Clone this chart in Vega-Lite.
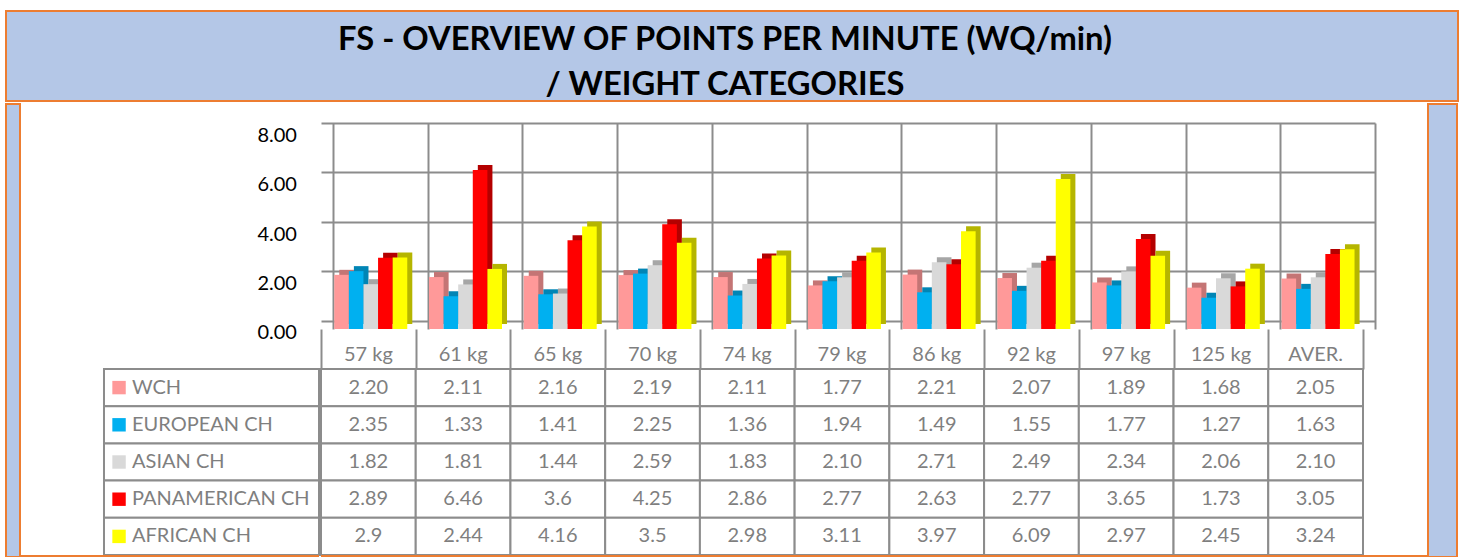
{
  "$schema": "https://vega.github.io/schema/vega-lite/v6.json",
  "background": "white",
  "padding": {"left": 5, "top": 10, "right": 5, "bottom": 0},
  "autosize": {"type": "pad"},
  "config": {"font": "Lato", "view": {"stroke": null}, "concat": {"spacing": 0}},
  "datasets": {
    "title": [
      {"line": 1, "t": "FS - OVERVIEW OF POINTS PER MINUTE (WQ/min)"},
      {"line": 2, "t": "/ WEIGHT CATEGORIES"}
    ],
    "ticks": [
      {"v": 0, "t": "0.00"},
      {"v": 2, "t": "2.00"},
      {"v": 4, "t": "4.00"},
      {"v": 6, "t": "6.00"},
      {"v": 8, "t": "8.00"}
    ],
    "d": [
      {"cat": "57 kg", "series": "WCH", "value": 2.20, "label": "2.20"},
      {"cat": "61 kg", "series": "WCH", "value": 2.11, "label": "2.11"},
      {"cat": "65 kg", "series": "WCH", "value": 2.16, "label": "2.16"},
      {"cat": "70 kg", "series": "WCH", "value": 2.19, "label": "2.19"},
      {"cat": "74 kg", "series": "WCH", "value": 2.11, "label": "2.11"},
      {"cat": "79 kg", "series": "WCH", "value": 1.77, "label": "1.77"},
      {"cat": "86 kg", "series": "WCH", "value": 2.21, "label": "2.21"},
      {"cat": "92 kg", "series": "WCH", "value": 2.07, "label": "2.07"},
      {"cat": "97 kg", "series": "WCH", "value": 1.89, "label": "1.89"},
      {"cat": "125 kg", "series": "WCH", "value": 1.68, "label": "1.68"},
      {"cat": "AVER.", "series": "WCH", "value": 2.05, "label": "2.05"},
      {"cat": "57 kg", "series": "EUROPEAN CH", "value": 2.35, "label": "2.35"},
      {"cat": "61 kg", "series": "EUROPEAN CH", "value": 1.33, "label": "1.33"},
      {"cat": "65 kg", "series": "EUROPEAN CH", "value": 1.41, "label": "1.41"},
      {"cat": "70 kg", "series": "EUROPEAN CH", "value": 2.25, "label": "2.25"},
      {"cat": "74 kg", "series": "EUROPEAN CH", "value": 1.36, "label": "1.36"},
      {"cat": "79 kg", "series": "EUROPEAN CH", "value": 1.94, "label": "1.94"},
      {"cat": "86 kg", "series": "EUROPEAN CH", "value": 1.49, "label": "1.49"},
      {"cat": "92 kg", "series": "EUROPEAN CH", "value": 1.55, "label": "1.55"},
      {"cat": "97 kg", "series": "EUROPEAN CH", "value": 1.77, "label": "1.77"},
      {"cat": "125 kg", "series": "EUROPEAN CH", "value": 1.27, "label": "1.27"},
      {"cat": "AVER.", "series": "EUROPEAN CH", "value": 1.63, "label": "1.63"},
      {"cat": "57 kg", "series": "ASIAN CH", "value": 1.82, "label": "1.82"},
      {"cat": "61 kg", "series": "ASIAN CH", "value": 1.81, "label": "1.81"},
      {"cat": "65 kg", "series": "ASIAN CH", "value": 1.44, "label": "1.44"},
      {"cat": "70 kg", "series": "ASIAN CH", "value": 2.59, "label": "2.59"},
      {"cat": "74 kg", "series": "ASIAN CH", "value": 1.83, "label": "1.83"},
      {"cat": "79 kg", "series": "ASIAN CH", "value": 2.10, "label": "2.10"},
      {"cat": "86 kg", "series": "ASIAN CH", "value": 2.71, "label": "2.71"},
      {"cat": "92 kg", "series": "ASIAN CH", "value": 2.49, "label": "2.49"},
      {"cat": "97 kg", "series": "ASIAN CH", "value": 2.34, "label": "2.34"},
      {"cat": "125 kg", "series": "ASIAN CH", "value": 2.06, "label": "2.06"},
      {"cat": "AVER.", "series": "ASIAN CH", "value": 2.10, "label": "2.10"},
      {"cat": "57 kg", "series": "PANAMERICAN CH", "value": 2.89, "label": "2.89"},
      {"cat": "61 kg", "series": "PANAMERICAN CH", "value": 6.46, "label": "6.46"},
      {"cat": "65 kg", "series": "PANAMERICAN CH", "value": 3.6, "label": "3.6"},
      {"cat": "70 kg", "series": "PANAMERICAN CH", "value": 4.25, "label": "4.25"},
      {"cat": "74 kg", "series": "PANAMERICAN CH", "value": 2.86, "label": "2.86"},
      {"cat": "79 kg", "series": "PANAMERICAN CH", "value": 2.77, "label": "2.77"},
      {"cat": "86 kg", "series": "PANAMERICAN CH", "value": 2.63, "label": "2.63"},
      {"cat": "92 kg", "series": "PANAMERICAN CH", "value": 2.77, "label": "2.77"},
      {"cat": "97 kg", "series": "PANAMERICAN CH", "value": 3.65, "label": "3.65"},
      {"cat": "125 kg", "series": "PANAMERICAN CH", "value": 1.73, "label": "1.73"},
      {"cat": "AVER.", "series": "PANAMERICAN CH", "value": 3.05, "label": "3.05"},
      {"cat": "57 kg", "series": "AFRICAN CH", "value": 2.9, "label": "2.9"},
      {"cat": "61 kg", "series": "AFRICAN CH", "value": 2.44, "label": "2.44"},
      {"cat": "65 kg", "series": "AFRICAN CH", "value": 4.16, "label": "4.16"},
      {"cat": "70 kg", "series": "AFRICAN CH", "value": 3.5, "label": "3.5"},
      {"cat": "74 kg", "series": "AFRICAN CH", "value": 2.98, "label": "2.98"},
      {"cat": "79 kg", "series": "AFRICAN CH", "value": 3.11, "label": "3.11"},
      {"cat": "86 kg", "series": "AFRICAN CH", "value": 3.97, "label": "3.97"},
      {"cat": "92 kg", "series": "AFRICAN CH", "value": 6.09, "label": "6.09"},
      {"cat": "97 kg", "series": "AFRICAN CH", "value": 2.97, "label": "2.97"},
      {"cat": "125 kg", "series": "AFRICAN CH", "value": 2.45, "label": "2.45"},
      {"cat": "AVER.", "series": "AFRICAN CH", "value": 3.24, "label": "3.24"}
    ]
  },
  "spacing": 0,
  "vconcat": [
    {
      "width": 1452,
      "height": 90,
      "view": {"fill": "#B4C7E7", "stroke": "#ED7D31", "strokeWidth": 2},
      "data": {"name": "title"},
      "mark": {"type": "text", "fontWeight": "bold", "fontSize": 32.7, "color": "black", "baseline": "alphabetic", "align": "center", "dx": -7},
      "encoding": {
        "y": {"field": "line", "type": "ordinal", "axis": null, "scale": {"type": "point", "padding": 0.5, "align": 0.8667}},
        "text": {"field": "t"}
      }
    },
    {
      "spacing": 0,
      "hconcat": [
        {
          "width": 14,
          "height": 453,
          "view": {"fill": "#B4C7E7", "stroke": "#ED7D31", "strokeWidth": 2},
          "data": {"values": []},
          "mark": "point"
        },
        {
          "bounds": "flush",
          "spacing": 0,
          "vconcat": [
            {"width": 298, "height": 19, "data": {"values": []}, "mark": "point"},
            {
              "width": 298,
              "height": 206,
              "data": {"name": "ticks"},
              "mark": {"type": "text", "align": "right", "fontSize": 20, "color": "black", "dy": 4},
              "encoding": {
                "x": {"datum": 0.926, "type": "quantitative", "scale": {"domain": [0, 1]}, "axis": null},
                "y": {"field": "v", "type": "quantitative", "scale": {"domain": [0, 8.366], "nice": false}, "axis": null},
                "text": {"field": "t"}
              }
            },
            {"width": 298, "height": 40, "data": {"values": []}, "mark": "point"},
            {
              "width": 298,
              "height": 186,
              "data": {"name": "d"},
              "transform": [{"filter": "datum.cat === '57 kg'"}],
              "encoding": {
                "y": {"field": "series", "type": "nominal",
                  "scale": {"type": "band", "domain": ["WCH","EUROPEAN CH","ASIAN CH","PANAMERICAN CH","AFRICAN CH"], "paddingInner": 0, "paddingOuter": 0},
                  "axis": null}
              },
              "layer": [
                {
                  "mark": {"type": "rect", "fill": "white", "stroke": "#8C8C8C", "strokeWidth": 2},
                  "encoding": {
                    "x": {"datum": 0.2785, "type": "quantitative", "scale": {"domain": [0, 1]}, "axis": null},
                    "x2": {"datum": 1}
                  }
                },
                {
                  "mark": {"type": "point", "shape": "square", "filled": true, "size": 180, "opacity": 1},
                  "encoding": {
                    "x": {"datum": 0.329, "type": "quantitative", "axis": null},
                    "color": {"field": "series", "type": "nominal",
                      "scale": {"domain": ["WCH","EUROPEAN CH","ASIAN CH","PANAMERICAN CH","AFRICAN CH"], "range": ["#FF9999","#00B0F0","#D9D9D9","#FF0000","#FFFF00"]},
                      "legend": null}
                  }
                },
                {
                  "mark": {"type": "text", "align": "left", "fontSize": 20, "color": "#7F7F7F"},
                  "encoding": {
                    "x": {"datum": 0.3725, "type": "quantitative", "axis": null},
                    "text": {"field": "series"}
                  }
                }
              ]
            },
            {"width": 298, "height": 2, "view": {"fill": "#ED7D31"}, "data": {"values": []}, "mark": "point"}
          ]
        },
        {
          "bounds": "flush",
          "spacing": 0,
          "vconcat": [
            {"width": 1054, "height": 19, "data": {"values": []}, "mark": "point"},
            {
              "width": 1054,
              "height": 206,
              "data": {"name": "d"},
              "layer": [
                {
                  "mark": {"type": "point", "opacity": 0},
                  "encoding": {
                    "x": {"field": "cat", "type": "nominal",
                      "scale": {"type": "band", "domain": ["57 kg","61 kg","65 kg","70 kg","74 kg","79 kg","86 kg","92 kg","97 kg","125 kg","AVER."], "paddingInner": 0, "paddingOuter": 0.0633, "align": 1},
                      "axis": {"orient": "top", "grid": true, "tickBand": "extent", "labels": false, "ticks": false, "domain": false, "title": null, "gridColor": "#8C8C8C", "gridWidth": 2}},
                    "y": {"field": "value", "type": "quantitative",
                      "scale": {"domain": [-0.33, 8], "nice": false, "zero": false},
                      "axis": {"orient": "right", "values": [0, 2, 4, 6, 8], "grid": true, "labels": false, "ticks": false, "domain": false, "title": null, "gridColor": "#8C8C8C", "gridWidth": 2}}
                  }
                },
                {
                  "mark": {"type": "bar", "yOffset": -5},
                  "encoding": {
                    "x": {"field": "cat", "type": "nominal",
                      "scale": {"type": "band", "domain": ["57 kg","61 kg","65 kg","70 kg","74 kg","79 kg","86 kg","92 kg","97 kg","125 kg","AVER."], "paddingInner": 0, "paddingOuter": 0.0633, "align": 0},
                      "axis": null},
                    "xOffset": {"field": "series", "type": "nominal",
                      "scale": {"domain": ["WCH","EUROPEAN CH","ASIAN CH","PANAMERICAN CH","AFRICAN CH"], "paddingInner": 0, "paddingOuter": 0.744, "align": 0.842}},
                    "y": {"field": "value", "type": "quantitative", "scale": {"domain": [0, 8.366], "nice": false}, "axis": null},
                    "color": {"field": "series", "type": "nominal",
                      "scale": {"domain": ["WCH","EUROPEAN CH","ASIAN CH","PANAMERICAN CH","AFRICAN CH"], "range": ["#C47575","#0085B5","#A6A6A6","#B40000","#B5B500"]},
                      "legend": null}
                  }
                },
                {
                  "mark": {"type": "bar"},
                  "encoding": {
                    "x": {"field": "cat", "type": "nominal",
                      "scale": {"type": "band", "domain": ["57 kg","61 kg","65 kg","70 kg","74 kg","79 kg","86 kg","92 kg","97 kg","125 kg","AVER."], "paddingInner": 0, "paddingOuter": 0.0633, "align": 0},
                      "axis": null},
                    "xOffset": {"field": "series", "type": "nominal",
                      "scale": {"domain": ["WCH","EUROPEAN CH","ASIAN CH","PANAMERICAN CH","AFRICAN CH"], "paddingInner": 0, "paddingOuter": 0.744, "align": 0.61}},
                    "y": {"field": "value", "type": "quantitative", "scale": {"domain": [0, 8.366], "nice": false}, "axis": null},
                    "color": {"field": "series", "type": "nominal",
                      "scale": {"domain": ["WCH","EUROPEAN CH","ASIAN CH","PANAMERICAN CH","AFRICAN CH"], "range": ["#FF9999","#00B0F0","#D9D9D9","#FF0000","#FFFF00"]},
                      "legend": null}
                  }
                }
              ],
              "resolve": {"scale": {"x": "independent", "y": "independent", "color": "independent", "xOffset": "independent"}}
            },
            {
              "width": 1042,
              "height": 40,
              "data": {"name": "d"},
              "transform": [{"filter": "datum.series === 'WCH'"}],
              "mark": {"type": "text", "fontSize": 20, "color": "#7F7F7F", "dy": 6},
              "encoding": {
                "x": {"field": "cat", "type": "nominal",
                  "scale": {"type": "band", "domain": ["57 kg","61 kg","65 kg","70 kg","74 kg","79 kg","86 kg","92 kg","97 kg","125 kg","AVER."], "paddingInner": 0, "paddingOuter": 0},
                  "axis": {"orient": "top", "grid": true, "tickBand": "extent", "labels": false, "ticks": false, "domain": false, "title": null, "gridColor": "#8C8C8C", "gridWidth": 2}},
                "text": {"field": "cat"}
              }
            },
            {
              "width": 1042,
              "height": 186,
              "data": {"name": "d"},
              "encoding": {
                "x": {"field": "cat", "type": "nominal",
                  "scale": {"type": "band", "domain": ["57 kg","61 kg","65 kg","70 kg","74 kg","79 kg","86 kg","92 kg","97 kg","125 kg","AVER."], "paddingInner": 0, "paddingOuter": 0},
                  "axis": null},
                "y": {"field": "series", "type": "nominal",
                  "scale": {"type": "band", "domain": ["WCH","EUROPEAN CH","ASIAN CH","PANAMERICAN CH","AFRICAN CH"], "paddingInner": 0, "paddingOuter": 0},
                  "axis": null}
              },
              "layer": [
                {"mark": {"type": "rect", "fill": "white", "stroke": "#8C8C8C", "strokeWidth": 2}},
                {"mark": {"type": "text", "fontSize": 20, "color": "#7F7F7F"}, "encoding": {"text": {"field": "label"}}}
              ]
            },
            {"width": 1054, "height": 2, "view": {"fill": "#ED7D31"}, "data": {"values": []}, "mark": "point"}
          ]
        },
        {
          "bounds": "flush",
          "spacing": 0,
          "vconcat": [
            {"width": 52, "height": 451, "data": {"values": []}, "mark": "point"},
            {"width": 52, "height": 2, "view": {"fill": "#ED7D31"}, "data": {"values": []}, "mark": "point"}
          ]
        },
        {
          "width": 29,
          "height": 453,
          "view": {"fill": "#B4C7E7", "stroke": "#ED7D31", "strokeWidth": 2},
          "data": {"values": []},
          "mark": "point"
        }
      ]
    }
  ]
}
